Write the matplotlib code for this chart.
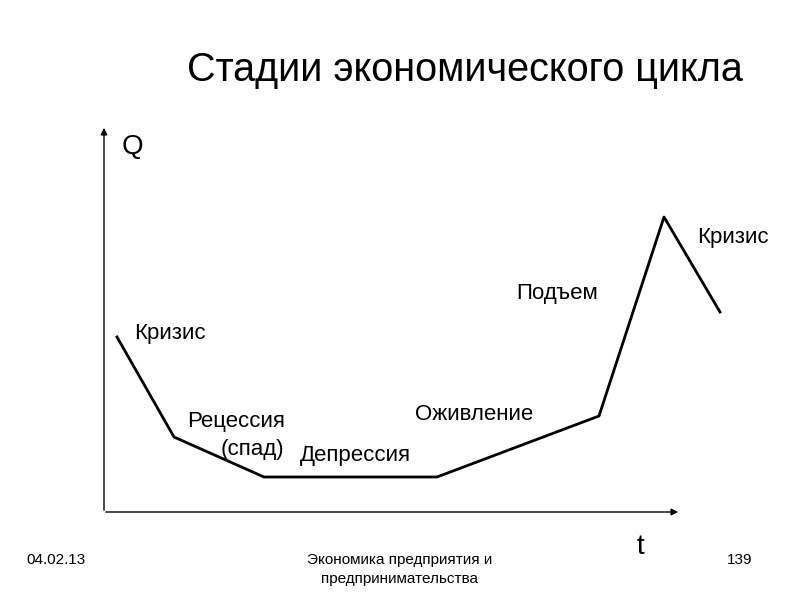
import matplotlib
matplotlib.use("Agg")
import matplotlib.pyplot as plt

plt.rcParams['font.family'] = ['Liberation Sans', 'DejaVu Sans']

# cycle curve (pixel-space coordinates of the slide)
cycle_t = [117, 174, 264, 437, 599, 664, 720]
cycle_q = [337, 437, 477, 477, 416, 217, 312]

stage_labels = ['Кризис', 'Рецессия', '(спад)', 'Депрессия', 'Оживление', 'Подъем', 'Кризис']
stage_x = [134, 187, 221, 300, 415, 516, 697]
stage_y = [333, 422, 450, 456, 415, 293, 238]

fig = plt.figure(figsize=(8, 6), dpi=100)
ax = fig.add_axes([0, 0, 1, 1])
ax.set_xlim(0, 800)
ax.set_ylim(600, 0)
ax.axis('off')

# axes with arrows
ax.annotate('', xy=(104, 125), xytext=(104, 513),
            arrowprops=dict(arrowstyle='-|>', color='black', lw=1, mutation_scale=10))
ax.annotate('', xy=(681, 512), xytext=(103, 512),
            arrowprops=dict(arrowstyle='-|>', color='black', lw=1, mutation_scale=10))

ax.plot(cycle_t, cycle_q, color='black', lw=2)

for s, x, y in zip(stage_labels, stage_x, stage_y):
    ax.text(x, y, s, fontsize=16, va='center', ha='left')

ax.text(122, 147, 'Q', fontsize=20, va='center')
ax.text(637, 547, 't', fontsize=20, va='center')
ax.text(465, 70, 'Стадии экономического цикла', fontsize=28.5, ha='center', va='center')

ax.text(26, 560, '04.02.13', fontsize=11, va='center')
ax.text(400, 560, 'Экономика предприятия и', fontsize=11, ha='center', va='center')
ax.text(400, 579, 'предпринимательства', fontsize=11, ha='center', va='center')
ax.text(752, 560, '139', fontsize=11, ha='right', va='center')

fig.savefig('out.png', dpi=100)
